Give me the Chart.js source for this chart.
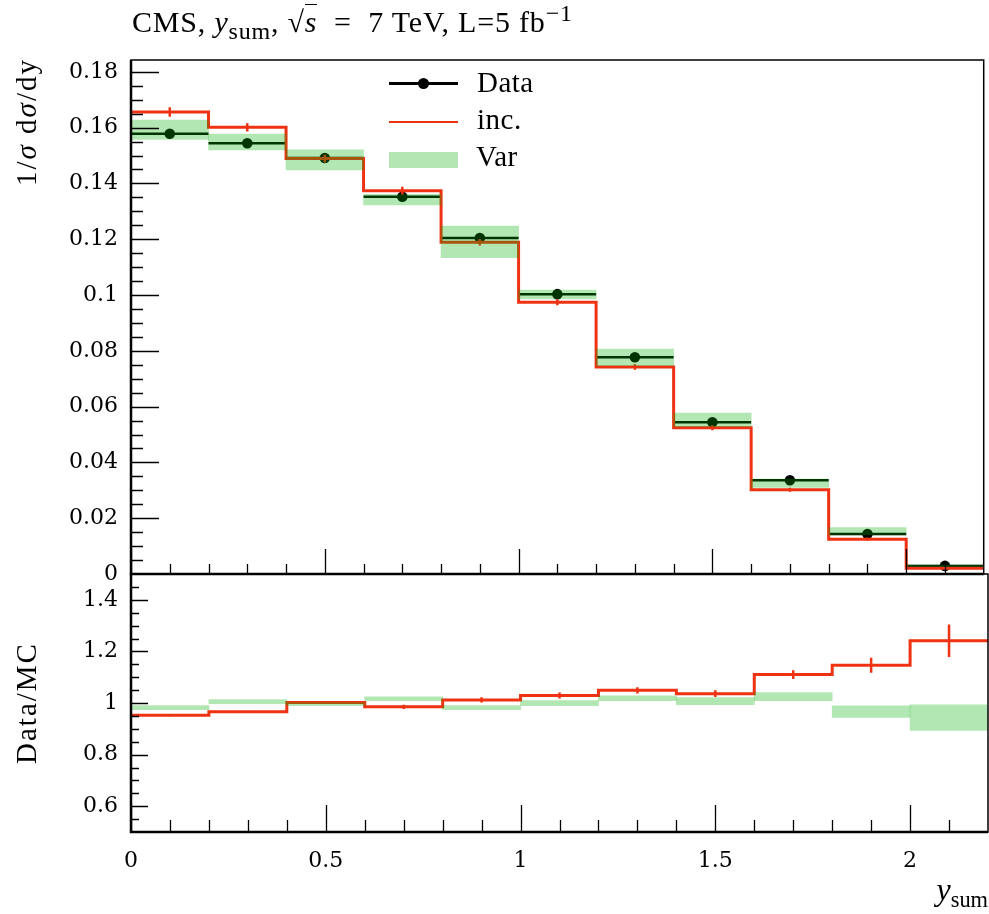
<!DOCTYPE html>
<html>
<head>
<meta charset="utf-8">
<script src="https://cdn.jsdelivr.net/npm/chart.js@4.4.1/dist/chart.umd.min.js"></script>
<style>
  body { margin: 0; background: #fff; }
  #wrap { position: relative; width: 989px; height: 914px; font-family: "Liberation Serif", serif; color: #000; }
  canvas { position: absolute; left: 0; top: 0; }
  .txt { position: absolute; white-space: nowrap; line-height: 30px; }
  .rot { position: absolute; white-space: nowrap; line-height: 30px; font-size: 29px; letter-spacing: 2px;
         transform-origin: 0 0; transform: rotate(-90deg); }
  sub, sup { font-size: 70%; line-height: 0; }
  .title sub, .title sup { font-size: 80%; }
  .legline { position: absolute; }
  .leg { font-size: 29px; letter-spacing: 0.5px; }
</style>
</head>
<body>
<div id="wrap">
  <canvas id="mainChart" width="989" height="914"></canvas>
  <canvas id="ratioChart" width="989" height="914"></canvas>

  <div class="txt title" style="left:132px; top:7px; font-size:30px; letter-spacing:0.8px;">CMS, <i>y</i><sub>sum</sub>, √<span style="border-top:1.5px solid #000;"><i>s</i></span>&nbsp; =&nbsp; 7 TeV, L=5 fb<sup>−1</sup></div>

  <!-- legend -->
  <div class="legline" style="left:389px; top:81.5px; width:69px; height:3px; background:#000;"></div>
  <div class="legline" style="left:417.5px; top:78px; width:11px; height:11px; border-radius:50%; background:#000;"></div>
  <div class="txt leg" style="left:477px; top:67px;">Data</div>
  <div class="legline" style="left:389px; top:120.5px; width:69px; height:2.5px; background:rgb(238,50,18);"></div>
  <div class="txt leg" style="left:477px; top:104px;">inc.</div>
  <div class="legline" style="left:389px; top:152px; width:69px; height:16px; background:rgb(179,230,179);"></div>
  <div class="txt leg" style="left:476px; top:141px;">Var</div>

  <!-- axis titles -->
  <div class="rot" style="left:11px; top:358px; width:300px; text-align:right;">1/<i>σ</i> d<i>σ</i>/dy</div>
  <div class="rot" style="left:11px; top:832px; width:258px; text-align:center;">Data/MC</div>
  <div class="txt" style="right:1px; top:874px; font-size:32px;"><i>y</i><sub>sum</sub></div>
</div>

<script>
// bins in y_sum
var binEdges = [0, 0.2, 0.4, 0.6, 0.8, 1.0, 1.2, 1.4, 1.6, 1.8, 2.0, 2.2];
var binCenters = [0.1, 0.3, 0.5, 0.7, 0.9, 1.1, 1.3, 1.5, 1.7, 1.9, 2.1];

// top panel: 1/sigma dsigma/dy
var dataVals = [0.1578, 0.1544, 0.1491, 0.1352, 0.1204, 0.1003, 0.0777, 0.0544, 0.0336, 0.0143, 0.0029];
var incVals  = [0.1656, 0.1601, 0.1489, 0.1374, 0.1189, 0.0974, 0.0742, 0.0524, 0.0302, 0.0125, 0.0021];
var incErrs  = [0.0017, 0.0015, 0.0014, 0.0014, 0.0012, 0.0011, 0.0010, 0.0009, 0.0007, 0.0005, 0.0003];
var varLow   = [0.1558, 0.1520, 0.1448, 0.1323, 0.1134, 0.0986, 0.0747, 0.0528, 0.0310, 0.0140, 0.0026];
var varHigh  = [0.1627, 0.1577, 0.1520, 0.1361, 0.1247, 0.1018, 0.0806, 0.0577, 0.0340, 0.0166, 0.0033];

// bottom panel: Data/MC
var incRatio     = [0.953, 0.966, 1.002, 0.985, 1.012, 1.029, 1.049, 1.036, 1.110, 1.146, 1.241];
var incRatioErrs = [0.004, 0.004, 0.005, 0.008, 0.010, 0.012, 0.012, 0.013, 0.017, 0.029, 0.063];
var varRatioLow  = [0.974, 0.997, 0.990, 1.009, 0.974, 0.990, 1.009, 0.994, 1.009, 0.944, 0.894];
var varRatioHigh = [0.990, 1.013, 1.002, 1.024, 0.990, 1.009, 1.028, 1.021, 1.040, 0.989, 0.993];

// tick labels
var xTicks = [0, 0.5, 1, 1.5, 2];
var mainYTicks = [0, 0.02, 0.04, 0.06, 0.08, 0.1, 0.12, 0.14, 0.16, 0.18];
var ratioYTicks = [0.6, 0.8, 1, 1.2, 1.4];

var RED = 'rgb(238,50,18)';
var BAND = 'rgba(0,171,0,0.3)';

function stepPoints(vals) {
    var pts = vals.map(function (v, i) { return {x: binEdges[i], y: v}; });
    pts.push({x: binEdges[binEdges.length - 1], y: vals[vals.length - 1]});
    return pts;
}
function binSegments(vals) {
    var pts = [];
    vals.forEach(function (v, i) {
        pts.push({x: binEdges[i], y: v}, {x: binEdges[i + 1], y: v}, {x: binEdges[i + 1], y: null});
    });
    return pts;
}
function errorSegments(vals, errs) {
    var pts = [];
    vals.forEach(function (v, i) {
        pts.push({x: binCenters[i], y: v - errs[i]}, {x: binCenters[i], y: v + errs[i]}, {x: binCenters[i], y: null});
    });
    return pts;
}
function bandBars(lo, hi) {
    return lo.map(function (l, i) { return {x: binCenters[i], y: [l, hi[i]]}; });
}
function fmt(v) { return String(+v.toFixed(3)); }

// frame + ticks pointing inside the plot
var insideTicks = {
    id: 'insideTicks',
    afterDatasetsDraw: function (chart, args, o) {
        var ctx = chart.ctx, a = chart.chartArea;
        var xs = chart.scales.x, ys = chart.scales.y;
        var n, v, p, major;
        ctx.save();
        ctx.strokeStyle = '#000';
        ctx.lineWidth = 1.3;
        ctx.beginPath();
        for (n = 0; ; n++) {
            v = xs.min + n * o.xMinor;
            if (v > xs.max - 1e-9) break;
            major = Math.abs(v / o.xMajor - Math.round(v / o.xMajor)) < 1e-6;
            p = Math.round(xs.getPixelForValue(v)) + 0.5;
            ctx.moveTo(p, a.bottom);
            ctx.lineTo(p, a.bottom - (major ? o.xMajorLen : o.xMinorLen));
        }
        for (n = 1; ; n++) {
            v = ys.min + n * o.yMinor;
            if (v > ys.max - 1e-9) break;
            major = Math.abs(v / o.yMajor - Math.round(v / o.yMajor)) < 1e-6;
            p = Math.round(ys.getPixelForValue(v)) + 0.5;
            ctx.moveTo(a.left, p);
            ctx.lineTo(a.left + (major ? o.yMajorLen : o.yMinorLen), p);
        }
        ctx.stroke();

        ctx.lineWidth = 1.5;
        ctx.strokeRect(a.left, a.top, a.right - a.left, a.bottom - a.top);
        ctx.lineWidth = 2.5;
        ctx.beginPath();
        ctx.moveTo(a.left, a.top);
        ctx.lineTo(a.left, a.bottom);
        ctx.lineTo(a.right, a.bottom);
        ctx.stroke();
        ctx.restore();
    }
};

var tickFont = {family: 'DejaVu Serif', size: 22};

function xScale(showLabels) {
    return {
        type: 'linear', min: 0, max: 2.2, offset: false,
        grid: {display: false, drawTicks: false}, border: {display: false},
        afterBuildTicks: function (s) { s.ticks = xTicks.map(function (v) { return {value: v}; }); },
        afterFit: function (s) { s.height = showLabels ? 82 : 0; },
        ticks: {display: showLabels, font: tickFont, color: '#000', padding: 16, maxRotation: 0,
                callback: function (v) { return fmt(v); }}
    };
}
function yScale(min, max, tickVals) {
    return {
        type: 'linear', min: min, max: max,
        grid: {display: false, drawTicks: false}, border: {display: false},
        afterBuildTicks: function (s) { s.ticks = tickVals.map(function (v) { return {value: v}; }); },
        afterFit: function (s) { s.width = 131; },
        ticks: {font: tickFont, color: '#000', padding: 13, callback: function (v) { return fmt(v); }}
    };
}

var common = {
    responsive: false,
    animation: false,
    events: [],
    plugins: {legend: {display: false}, tooltip: {enabled: false}}
};

new Chart(document.getElementById('mainChart').getContext('2d'), {
    type: 'line',
    data: {
        datasets: [
            {type: 'bar', label: 'Var', data: bandBars(varLow, varHigh), backgroundColor: BAND,
             borderWidth: 0, barPercentage: 1, categoryPercentage: 1, order: 0},
            {label: 'inc.', data: stepPoints(incVals), stepped: 'before', borderColor: RED,
             borderWidth: 3, pointRadius: 0, fill: false, order: 1},
            {label: 'inc. err', data: errorSegments(incVals, incErrs), borderColor: RED,
             borderWidth: 2.5, pointRadius: 0, fill: false, spanGaps: false, order: 1},
            {label: 'Data', data: binSegments(dataVals), borderColor: '#000',
             borderWidth: 2.5, pointRadius: 0, fill: false, spanGaps: false, order: 3},
            {label: 'Data pts', data: dataVals.map(function (v, i) { return {x: binCenters[i], y: v}; }),
             showLine: false, pointRadius: 5.3, pointBackgroundColor: '#000', pointBorderWidth: 0, order: 3}
        ]
    },
    options: Object.assign({}, common, {
        layout: {padding: {top: 60, right: 1, bottom: 340, left: 0}},
        scales: {x: xScale(false), y: yScale(0, 0.18423, mainYTicks)},
        plugins: Object.assign({}, common.plugins, {
            insideTicks: {xMajor: 0.5, xMinor: 0.1, xMajorLen: 25, xMinorLen: 10,
                          yMajor: 0.02, yMinor: 0.005, yMajorLen: 28, yMinorLen: 12}
        })
    }),
    plugins: [insideTicks]
});

new Chart(document.getElementById('ratioChart').getContext('2d'), {
    type: 'line',
    data: {
        datasets: [
            {type: 'bar', label: 'Var', data: bandBars(varRatioLow, varRatioHigh), backgroundColor: BAND,
             borderWidth: 0, barPercentage: 1, categoryPercentage: 1, order: 0},
            {label: 'inc.', data: stepPoints(incRatio), stepped: 'before', borderColor: RED,
             borderWidth: 3, pointRadius: 0, fill: false, order: 1},
            {label: 'inc. err', data: errorSegments(incRatio, incRatioErrs), borderColor: RED,
             borderWidth: 2.5, pointRadius: 0, fill: false, spanGaps: false, order: 1}
        ]
    },
    options: Object.assign({}, common, {
        layout: {padding: {top: 574, right: 1, bottom: 0, left: 0}},
        scales: {x: xScale(true), y: yScale(0.5, 1.5, ratioYTicks)},
        plugins: Object.assign({}, common.plugins, {
            insideTicks: {xMajor: 0.5, xMinor: 0.1, xMajorLen: 27, xMinorLen: 12,
                          yMajor: 0.2, yMinor: 0.05, yMajorLen: 17, yMinorLen: 8}
        })
    }),
    plugins: [insideTicks]
});
</script>
</body>
</html>
